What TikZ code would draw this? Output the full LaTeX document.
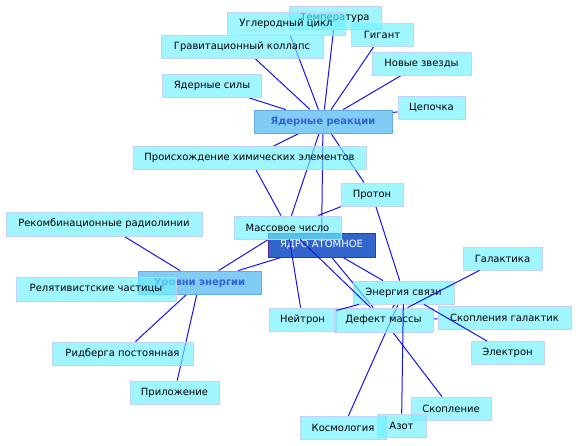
\documentclass[tikz,border=0pt]{standalone}
\usepackage{fontspec}
\setmainfont{DejaVu Sans}
\usepackage{tikz}
\usepackage{xcolor}
\definecolor{cianCaja}{RGB}{109, 241, 255}
\definecolor{cianBorde}{RGB}{195, 210, 250}
\definecolor{azulNucleo}{RGB}{51, 102, 204}
\definecolor{moradoBorde}{RGB}{90, 40, 150}
\definecolor{celesteTema}{RGB}{128, 204, 245}
\definecolor{celesteTemaBorde}{RGB}{100, 170, 230}
\definecolor{azulTexto}{RGB}{50, 100, 210}
\definecolor{azulLinea}{RGB}{20, 20, 240}
\pgfdeclarelayer{enlaces}
\pgfdeclarelayer{frente}
\pgfsetlayers{enlaces,main,frente}

\begin{document}
\begin{tikzpicture}[x=1pt, y=-1pt,
  concepto/.style={rectangle, draw=cianBorde, fill=cianCaja, fill opacity=0.65, text opacity=1,
    line width=0.8pt, minimum height=23pt, inner sep=0pt, font=\fontsize{10}{12}\selectfont},
  tema/.style={concepto, draw=celesteTemaBorde, fill=celesteTema, fill opacity=1,
    text=azulTexto, font=\fontsize{10}{12}\selectfont\bfseries},
  nucleo/.style={concepto, draw=moradoBorde, fill=azulNucleo, fill opacity=1, text=white},
  enlace/.style={azulLinea, line width=1pt}
]
\useasboundingbox (0,0) rectangle (576,446);

% arriba
\node[concepto, minimum width=92pt] (temp) at (335,17.5) {Температура};
\node[concepto, minimum width=118pt] (uglerod) at (286,24) {Углеродный цикл};
\node[concepto, minimum width=62pt] (gigant) at (382,34.5) {Гигант};
\node[concepto, minimum width=162pt] (gravit) at (242,46.5) {Гравитационный коллапс};
\node[concepto, minimum width=99pt] (novye) at (421.5,63.5) {Новые звезды};
\node[concepto, minimum width=99pt] (yasily) at (212,86) {Ядерные силы};
\node[concepto, minimum width=67pt] (cepochka) at (431.5,107.5) {Цепочка};
\node[tema, minimum width=138pt] (reakcii) at (323,121.5) {Ядерные реакции};
\node[concepto, minimum width=233pt] (proish) at (249.5,158) {Происхождение химических элементов};
\node[concepto, minimum width=62pt] (proton) at (372,194.5) {Протон};

% centro
\node[nucleo, minimum width=107pt, minimum height=24pt] (yadro) at (321.5,245) {ЯДРО АТОМНОЕ};
\node[concepto, minimum width=107pt] (massa) at (287.5,227.5) {Массовое число};
\node[concepto, minimum width=196pt, minimum height=24pt] (rekomb) at (104,224) {Рекомбинационные радиолинии};
\node[tema, minimum width=123pt] (urovni) at (199.5,282.5) {Уровни энергии};
\node[concepto, minimum width=160pt, minimum height=24pt] (relat) at (96,289) {Релятивистские частицы};
\node[concepto, minimum width=79pt] (galakt) at (502.5,258.5) {Галактика};
\node[concepto, minimum width=101pt] (energ) at (403.5,292.5) {Энергия связи};
\node[concepto, minimum width=67pt] (neitron) at (302.5,319.5) {Нейтрон};
\node[concepto, minimum width=99pt, minimum height=24pt] (defekt) at (383.5,320) {Дефект массы};
\node[concepto, minimum width=133pt] (skgal) at (504.5,317.5) {Скопления галактик};

% abajo
\node[concepto, minimum width=73pt] (elektron) at (507.5,353) {Электрон};
\node[concepto, minimum width=141pt] (ridberg) at (122.5,353.5) {Ридберга постоянная};
\node[concepto, minimum width=89pt] (prilozh) at (174.5,392.5) {Приложение};
\node[concepto, minimum width=80pt] (skopl) at (451,408.5) {Скопление};
\node[concepto, minimum width=86pt] (kosmol) at (343,428) {Космология};
\node[concepto, minimum width=49pt] (azot) at (401.5,425.5) {Азот};

\begin{pgfonlayer}{enlaces}
\draw[enlace] (reakcii) -- (uglerod);
\draw[enlace] (reakcii) -- (temp);
\draw[enlace] (reakcii) -- (gigant);
\draw[enlace] (reakcii) -- (gravit);
\draw[enlace] (reakcii) -- (novye);
\draw[enlace] (reakcii) -- (yasily);
\draw[enlace] (reakcii) -- (cepochka);
\draw[enlace] (reakcii) -- (proish);
\draw[enlace] (reakcii) -- (massa);
\draw[enlace] (reakcii) -- (yadro);
\draw[enlace] (reakcii) -- (proton);
\draw[enlace] (proish) -- (massa);
\draw[enlace] (proton) -- (massa);
\draw[enlace] (proton) -- (energ);
\draw[enlace] (urovni) -- (rekomb);
\draw[enlace] (urovni) -- (ridberg);
\draw[enlace] (urovni) -- (prilozh);
\draw[enlace] (urovni) -- (massa);
\draw[enlace] (urovni) -- (yadro);
\draw[enlace] (yadro) -- (defekt);
\draw[enlace] (yadro) -- (energ);
\draw[enlace] (energ) -- (defekt);
\draw[enlace] (energ) -- (kosmol);
\draw[enlace] (defekt) -- (skgal);
\draw[enlace] (defekt) -- (skopl);
\end{pgfonlayer}

\begin{pgfonlayer}{frente}
\draw[enlace] (massa) -- (neitron);
\draw[enlace] (massa) -- (defekt);
\draw[enlace] (galakt) -- (defekt);
\draw[enlace] (elektron) -- (energ);
\draw[enlace] (azot) -- (energ);
\draw[enlace] (neitron) -- (energ);
\end{pgfonlayer}
\end{tikzpicture}
\end{document}
